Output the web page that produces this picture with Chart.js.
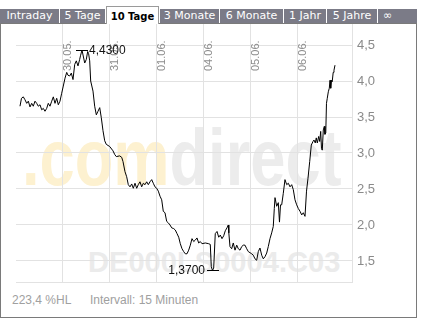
<!DOCTYPE html>
<html>
<head>
<meta charset="utf-8">
<script src="https://cdn.jsdelivr.net/npm/chart.js@4/dist/chart.umd.min.js"></script>
<style>
  html, body { margin:0; padding:0; background:#fff; }
  #wrap { position:relative; width:430px; height:327px; overflow:hidden; font-family:"Liberation Sans", Arial, sans-serif; }
  .frame { position:absolute; left:0; top:23px; width:417px; height:295px; box-sizing:border-box; border:1px solid #7a7a7a; }
  .tab { position:absolute; top:9px; height:14px; line-height:14px; background:#7b7b87; color:#fff; font-family:"DejaVu Sans", Verdana, sans-serif; font-size:11px; text-align:center; white-space:nowrap; }
  .tab.sel { top:6px; height:18px; line-height:20px; background:#fff; color:#000; font-weight:bold; font-size:10px; box-sizing:border-box; border:1px solid #9a9a9a; border-bottom:none; }
  .wm1 { position:absolute; left:22px; top:118px; font-size:80px; line-height:80px; font-weight:bold; white-space:nowrap; transform:scaleX(0.79); transform-origin:left top; }
  .wm2 { position:absolute; left:88px; top:247px; font-size:30px; line-height:30px; font-weight:bold; color:#ebebeb; white-space:nowrap; transform:scaleX(0.97); transform-origin:left top; }
  .foot { position:absolute; top:293px; font-size:12px; line-height:14px; color:#a0a0a0; white-space:nowrap; }
  canvas { position:absolute; left:0; top:0; }
</style>
</head>
<body>
<div id="wrap">
  <div class="frame"></div>
  <div class="tab" style="left:0;width:59px;">Intraday</div>
  <div class="tab" style="left:60px;width:45px;">5 Tage</div>
  <div class="tab" style="left:160px;width:59px;">3 Monate</div>
  <div class="tab" style="left:220px;width:63px;">6 Monate</div>
  <div class="tab" style="left:284px;width:42px;">1 Jahr</div>
  <div class="tab" style="left:327px;width:50px;">5 Jahre</div>
  <div class="tab" style="left:378px;width:39px;text-align:left;padding-left:5px;box-sizing:border-box;">∞</div>
  <div class="tab sel" style="left:106px;width:53px;">10 Tage</div>
  <div class="wm1"><span style="color:#fdf1d0">.com</span><span style="color:#ececec">direct</span></div>
  <div class="wm2">DE000LS0004.C03</div>
  <div class="foot" style="left:12px;">223,4 %HL</div>
  <div class="foot" style="left:90px;">Intervall: 15 Minuten</div>
  <canvas id="c" width="430" height="327"></canvas>
</div>
<script>
// Trading-day positions (0 = start of 29.05.) and prices, 15-minute interval
const dayPos = [0.085,0.117,0.155,0.191,0.228,0.262,0.298,0.334,0.368,0.404,
0.440,0.474,0.511,0.547,0.581,0.617,0.653,0.687,0.723,0.760,
0.794,0.830,0.866,0.900,0.936,0.972,1.006,1.043,1.079,1.106,
1.143,1.177,1.213,1.249,1.283,1.319,1.355,1.372,1.404,1.462,
1.496,1.525,1.545,1.568,1.589,1.638,1.674,1.709,1.745,1.781,
1.815,1.851,1.887,1.921,1.994,2.064,2.100,2.134,2.206,2.249,
2.277,2.319,2.355,2.389,2.426,2.462,2.496,2.532,2.568,2.602,
2.638,2.674,2.709,2.745,2.781,2.815,2.851,2.887,2.921,2.957,
2.994,3.028,3.064,3.100,3.134,3.170,3.206,3.240,3.277,3.313,
3.355,3.389,3.426,3.462,3.496,3.532,3.568,3.602,3.638,3.674,
3.709,3.745,3.781,3.815,3.851,3.887,3.921,3.957,4.028,4.100,
4.134,4.155,4.181,4.206,4.240,4.277,4.313,4.347,4.383,4.419,
4.453,4.489,4.517,4.528,4.553,4.589,4.623,4.660,4.696,4.730,
4.766,4.802,4.836,4.872,4.909,4.943,5.015,5.049,5.085,5.121,
5.155,5.191,5.228,5.262,5.298,5.334,5.368,5.404,5.440,5.474,
5.496,5.511,5.547,5.581,5.606,5.628,5.653,5.687,5.723,5.760,
5.794,5.830,5.866,5.900,5.936,5.972,6.006,6.043,6.079,6.113,
6.149,6.181,6.213,6.249,6.283,6.319,6.340,6.368,6.389,6.411,
6.440,6.462,6.483,6.500,6.517,6.538,6.560,6.574,6.591,6.606,
6.623,6.645,6.666,6.681,6.696,6.713,6.728,6.749,6.766,6.787];

const price = [3.65,3.76,3.78,3.74,3.69,3.72,3.64,3.69,3.65,3.72,
3.69,3.65,3.67,3.60,3.62,3.58,3.62,3.69,3.65,3.72,
3.78,3.69,3.76,3.67,3.72,3.83,3.93,4.04,4.12,4.08,
4.07,4.11,4.02,4.23,4.28,4.21,4.30,4.35,4.43,4.25,
4.30,4.41,4.38,4.28,4.00,3.86,3.65,3.53,3.58,3.63,
3.49,3.31,3.17,3.12,3.09,3.03,2.98,2.95,2.96,2.94,
2.88,2.74,2.67,2.56,2.53,2.57,2.51,2.58,2.51,2.56,
2.60,2.53,2.58,2.56,2.60,2.56,2.60,2.63,2.58,2.53,
2.51,2.47,2.40,2.35,2.19,2.17,2.05,2.03,2.00,1.96,
1.95,1.93,1.88,1.83,1.74,1.67,1.63,1.60,1.60,1.65,
1.72,1.81,1.77,1.79,1.82,1.75,1.77,1.74,1.75,1.74,
1.73,1.42,1.37,1.40,1.88,1.91,1.83,1.86,1.81,1.85,
1.92,1.96,2.00,1.89,1.70,1.67,1.75,1.65,1.72,1.67,
1.65,1.70,1.72,1.72,1.67,1.63,1.60,1.58,1.53,1.51,
1.63,1.68,1.58,1.53,1.56,1.61,1.70,1.81,1.89,1.98,
2.23,2.38,2.26,2.31,2.04,2.28,2.28,2.44,2.63,2.56,
2.58,2.53,2.56,2.49,2.35,2.28,2.23,2.19,2.14,2.17,
2.12,2.47,2.65,2.88,3.11,3.16,3.18,3.14,3.21,3.14,
3.23,3.16,3.30,3.06,3.04,3.32,3.37,3.26,3.28,3.69,
3.76,3.85,3.90,4.01,3.90,4.01,3.99,4.12,4.15,4.22];

const dayTicks  = [1, 2, 3, 4, 5, 6];
const dayLabels = ['30.05.', '31.05.', '01.06.', '04.06.', '05.06.', '06.06.'];
const yTicks    = [1.5, 2.0, 2.5, 3.0, 3.5, 4.0, 4.5];

const fmt = (v, d) => v.toFixed(d).replace('.', ',');

const overlay = {
  id: 'overlay',
  beforeDatasetsDraw(chart) {
    const { ctx, scales: { x } } = chart;
    ctx.save();
    ctx.font = '11px "Liberation Sans", Arial, sans-serif';
    ctx.fillStyle = '#8c8c8c';
    ctx.textBaseline = 'middle';
    ctx.textAlign = 'left';
    dayTicks.forEach((d, i) => {
      const px = x.getPixelForValue(d) + 5;
      ctx.save();
      ctx.translate(px, 71);
      ctx.rotate(-Math.PI / 2);
      ctx.fillText(dayLabels[i], 0, 0);
      ctx.restore();
    });
    ctx.restore();
  },
  afterDatasetsDraw(chart) {
    const { ctx, scales: { x, y } } = chart;
    let iMax = 0, iMin = 0;
    price.forEach((v, i) => { if (v > price[iMax]) iMax = i; if (v < price[iMin]) iMin = i; });
    ctx.save();
    ctx.strokeStyle = '#000';
    ctx.lineWidth = 1;
    ctx.fillStyle = '#111';
    ctx.font = '12px "Liberation Sans", Arial, sans-serif';
    ctx.textBaseline = 'middle';
    [[iMax, 'left'], [iMin, 'right']].forEach(([i, side]) => {
      const px = Math.round(x.getPixelForValue(dayPos[i]));
      const py = Math.round(y.getPixelForValue(price[i])) + 0.5;
      ctx.beginPath();
      ctx.moveTo(px - 6, py);
      ctx.lineTo(px + 6, py);
      ctx.stroke();
      ctx.textAlign = side;
      if (side === 'left') ctx.fillText(fmt(price[i], 4), px + 7, py);
      else ctx.fillText(fmt(price[i], 4), px - 8, py);
    });
    ctx.restore();
  }
};

const gridColor = '#e2e2e2';

new Chart(document.getElementById('c'), {
  type: 'line',
  data: {
    datasets: [{
      data: dayPos.map((d, i) => ({ x: d, y: price[i] })),
      borderColor: '#000',
      borderWidth: 1,
      pointRadius: 0,
      tension: 0,
      fill: false
    }]
  },
  options: {
    responsive: false,
    animation: false,
    devicePixelRatio: 1,
    events: [],
    layout: { padding: { left: 16, top: 24, right: 0, bottom: 45 } },
    plugins: { legend: { display: false }, tooltip: { enabled: false } },
    scales: {
      x: {
        type: 'linear',
        position: 'bottom',
        min: 0,
        max: 7.149,
        afterBuildTicks: s => { s.ticks = dayTicks.map(v => ({ value: v })); },
        afterFit: s => { s.height = 0; },
        ticks: { display: false },
        grid: { color: gridColor, drawTicks: false },
        border: { color: gridColor }
      },
      y: {
        position: 'right',
        min: 1.208,
        max: 4.792,
        afterBuildTicks: s => { s.ticks = yTicks.map(v => ({ value: v })); },
        afterFit: s => { s.width = 78; },
        ticks: {
          padding: 5,
          color: '#8a8a8a',
          font: { family: '"Liberation Sans", Arial, sans-serif', size: 13 },
          callback: v => fmt(v, 1)
        },
        grid: { color: gridColor, drawTicks: false },
        border: { color: gridColor }
      }
    }
  },
  plugins: [overlay]
});
</script>
</body>
</html>
